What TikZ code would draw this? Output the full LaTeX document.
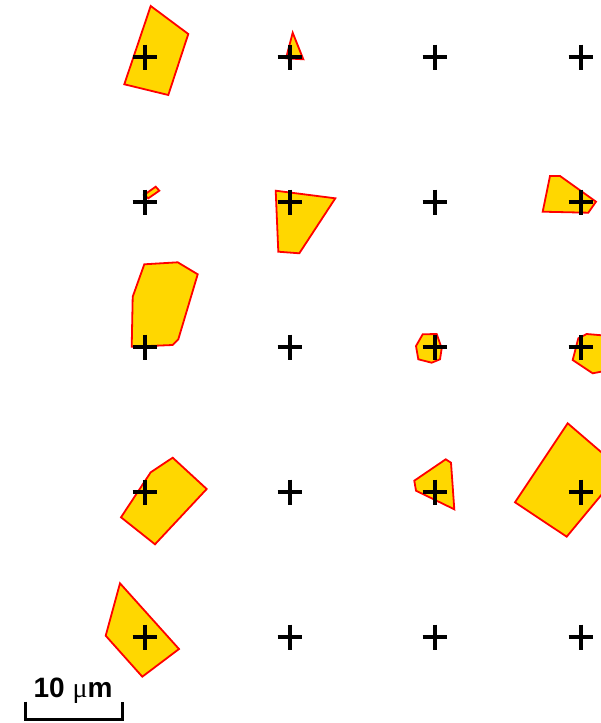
\documentclass[tikz,border=0pt]{standalone}
\usepackage{fontspec}
\setmainfont{Liberation Sans}
\newfontfamily\symfont{Liberation Serif}
\usepackage{tikz}
\definecolor{grainfill}{RGB}{255, 215, 0}
\definecolor{grainedge}{RGB}{255, 0, 0}

\begin{document}
\begin{tikzpicture}[
    x=1pt, y=-1pt,
    grain/.style={fill=grainfill, draw=grainedge, line width=1.8pt, line join=miter},
    cross/.style={draw=black, line width=4pt},
    scalebar/.style={draw=black, line width=3pt},
    barlabel/.style={font=\fontsize{28}{31}\selectfont\bfseries, inner sep=0pt, anchor=base}
]
    \useasboundingbox (0,0) rectangle (601,723);
    \clip (0,0) rectangle (601,723);

    % Koernchen, Zeile 1
    \draw[grain] (150.7,6) -- (188.3,34) -- (168.3,95) -- (124.3,84.3) -- cycle;
    \draw[grain] (292.7,32.7) -- (303.3,59.3) -- (286,58.3) -- cycle;
    % Zeile 2
    \draw[grain] (144,195) -- (155.7,186.7) -- (159.3,190.7) -- (148.3,198.3) -- cycle;
    \draw[grain] (275.7,190.7) -- (335.3,198.3) -- (299.3,253.3) -- (278.3,251.7) -- cycle;
    \draw[grain] (550,176) -- (560,176) -- (596,201.7) -- (588.3,212.7) -- (542.7,211.7) -- cycle;
    % Zeile 3
    \draw[grain] (144.3,264.3) -- (177.7,262.3) -- (197.7,274.3) -- (178.3,339.3) -- (172.7,345) -- (131.7,346.7) -- (132.7,296.7) -- cycle;
    \draw[grain] (422.7,334.3) -- (436.7,334) -- (441.7,348.3) -- (440,359.3) -- (431.7,362.7) -- (418.3,359.3) -- (416,346) -- cycle;
    \draw[grain] (578.3,338.3) -- (586.7,334) -- (610,336) -- (610,370) -- (592.7,373.3) -- (572.7,360) -- cycle;
    % Zeile 4
    \draw[grain] (150.7,472.3) -- (172.7,457.7) -- (206.7,489) -- (155,544.3) -- (121,517.3) -- cycle;
    \draw[grain] (414.3,480.7) -- (445.7,459.3) -- (451,462.7) -- (454.3,509.3) -- (416,490.7) -- cycle;
    \draw[grain] (567.7,423.3) -- (622,470) -- (566.7,536.7) -- (515,502.3) -- cycle;
    % Zeile 5
    \draw[grain] (120,583.3) -- (179,649) -- (142.3,676.7) -- (105.7,635.7) -- cycle;

    % Rasterpunkte
    \foreach \gx in {145,290,435,581}
        \foreach \gy in {57,202,347,492,637}
            \draw[cross] (\gx,\gy) +(-12.3,0) -- +(12.3,0) +(0,-12.5) -- +(0,12.5);

    % Massstab
    \coordinate (barL) at (25,701.5);
    \coordinate (barR) at (122,701.5);
    \draw[scalebar] (barL) -- (barL |- 0,719.5) -- (barR |- 0,719.5) -- (barR);
    \node[barlabel] (barText) at (73,697.5) {10 {\symfont\mdseries μ}m};
\end{tikzpicture}
\end{document}
